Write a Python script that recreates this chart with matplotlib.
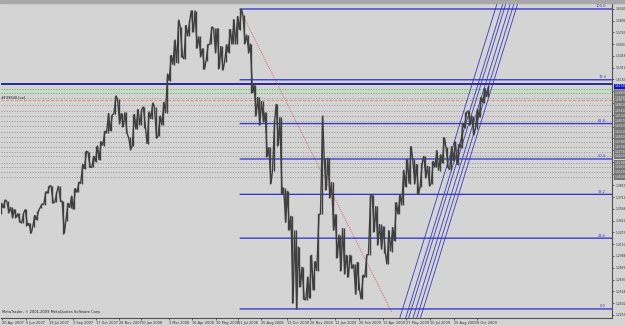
import numpy as np
import pandas as pd
import matplotlib
matplotlib.use("Agg")
import matplotlib.pyplot as plt

# ---------------- data (weekly ranges) ----------------
week_start = pd.date_range("2007-04-16", "2009-10-26", freq="W-MON")
week_low = [
    1.3500, 1.3580, 1.3520, 1.3460, 1.3460, 1.3410, 1.3390, 1.3360, 1.3264, 1.3340,
    1.3430, 1.3580, 1.3620, 1.3760, 1.3640, 1.3650, 1.3660, 1.3261, 1.3420, 1.3580,
    1.3560, 1.3770, 1.3880, 1.4060, 1.4080, 1.4080, 1.4150, 1.4170, 1.4350, 1.4500,
    1.4530, 1.4740, 1.4620, 1.4580, 1.4500, 1.4300, 1.4350, 1.4550, 1.4600, 1.4570,
    1.4370, 1.4680, 1.4440, 1.4470, 1.4600, 1.4750, 1.5150, 1.5350, 1.5370, 1.5450,
    1.5420, 1.5700, 1.5750, 1.5550, 1.5450, 1.5290, 1.5400, 1.5600, 1.5500, 1.5300,
    1.5280, 1.5380, 1.5500, 1.5600, 1.5600, 1.5780, 1.5610, 1.5500, 1.5000, 1.4720,
    1.4600, 1.4640, 1.4210, 1.3880, 1.4040, 1.4350, 1.3750, 1.3400, 1.3300, 1.2400,
    1.2330, 1.2600, 1.2450, 1.2440, 1.2460, 1.2560, 1.2800, 1.3500, 1.3800, 1.3700,
    1.3300, 1.2960, 1.2800, 1.2760, 1.2720, 1.2830, 1.2510, 1.2570, 1.2450, 1.2720,
    1.3000, 1.3280, 1.3120, 1.3070, 1.3020, 1.2880, 1.3040, 1.3170, 1.3500, 1.3610,
    1.3840, 1.3880, 1.3880, 1.3750, 1.3840, 1.3950, 1.3850, 1.3880, 1.4080, 1.4040,
    1.4130, 1.4080, 1.4050, 1.4160, 1.4110, 1.4320, 1.4570, 1.4600, 1.4480, 1.4560,
    1.4700, 1.4880, 1.4950]
week_high = [
    1.3640, 1.3680, 1.3660, 1.3590, 1.3560, 1.3510, 1.3520, 1.3560, 1.3390, 1.3490,
    1.3540, 1.3630, 1.3780, 1.3850, 1.3852, 1.3780, 1.3850, 1.3660, 1.3640, 1.3730,
    1.3820, 1.3900, 1.4120, 1.4280, 1.4270, 1.4220, 1.4350, 1.4400, 1.4530, 1.4750,
    1.4730, 1.4967, 1.4920, 1.4750, 1.4760, 1.4450, 1.4740, 1.4800, 1.4800, 1.4830,
    1.4770, 1.4880, 1.4830, 1.4720, 1.4890, 1.5240, 1.5470, 1.5660, 1.5905, 1.5820,
    1.5840, 1.5900, 1.6020, 1.6019, 1.5700, 1.5550, 1.5600, 1.5820, 1.5800, 1.5800,
    1.5580, 1.5600, 1.5790, 1.5910, 1.5950, 1.6038, 1.5960, 1.5720, 1.5610, 1.5100,
    1.4950, 1.4900, 1.4760, 1.4330, 1.4660, 1.4865, 1.4700, 1.3830, 1.3790, 1.3480,
    1.3300, 1.3100, 1.2850, 1.2730, 1.3000, 1.2920, 1.3500, 1.4720, 1.4200, 1.4200,
    1.3900, 1.3500, 1.3250, 1.3330, 1.3000, 1.3000, 1.2880, 1.2910, 1.2750, 1.3000,
    1.3740, 1.3740, 1.3600, 1.3380, 1.3350, 1.3300, 1.3340, 1.3650, 1.3740, 1.4050,
    1.4180, 1.4340, 1.4180, 1.4120, 1.4140, 1.4220, 1.4100, 1.4160, 1.4290, 1.4240,
    1.4450, 1.4330, 1.4340, 1.4400, 1.4370, 1.4630, 1.4760, 1.4780, 1.4720, 1.4800,
    1.4950, 1.5060, 1.5080]

x_labels = ["20 Apr 2007", "5 Jun 2007", "19 Jul 2007", "3 Sep 2007", "17 Oct 2007",
            "28 Nov 2007", "10 Jan 2008", "3 Mar 2008", "16 Apr 2008", "30 May 2008",
            "11 Jul 2008", "25 Aug 2008", "13 Oct 2008", "26 Nov 2008", "12 Jan 2009",
            "26 Feb 2009", "13 Apr 2009", "27 May 2009", "10 Jul 2009", "25 Aug 2009",
            "8 Oct 2009"]

# Fibonacci retracement (swing high / swing low)
fib_high_date, fib_high = "2008-07-15", 1.6038
fib_low_date, fib_low = "2008-10-27", 1.2330
fib_ratios = [0.0, 23.6, 38.2, 50.0, 61.8, 76.4, 100.0]

# horizontal support / resistance levels
dotted_levels = [1.4938, 1.4851, 1.4781, 1.4715, 1.4657, 1.4592, 1.4521, 1.4460,
                 1.4398, 1.4336, 1.4274, 1.4222, 1.4138, 1.4081, 1.4019, 1.3958]
green_levels = [1.5049, 1.4999]
orange_level = 1.4907
blue_level = 1.5111
current_price = 1.5074

# red dotted trend line
red_line = [("2008-07-15", 1.6038), ("2009-04-29", 1.2293)]

# blue parallel channel lines (start point, end point)
chan_start_dates = ["2009-05-14", "2009-05-26", "2009-06-01", "2009-06-09", "2009-06-16", "2009-06-23"]
chan_end_dates = ["2009-11-16", "2009-11-26", "2009-12-02", "2009-12-10", "2009-12-17", "2009-12-24"]
chan_start_price, chan_end_price = 1.2218, 1.6112

# ---------------- helpers ----------------
BASE = np.datetime64("2007-04-20")


def bar(d):
    return float(np.busday_count(BASE, np.datetime64(pd.Timestamp(d).date())))


# ---------------- figure ----------------
BG = "#D4D4D4"
YLO, YHI = 1.2218, 1.6112
fig = plt.figure(figsize=(6.25, 3.26), dpi=100)
fig.patch.set_facecolor(BG)
ax = fig.add_axes([1 / 625, 8 / 326, 611 / 625, 315 / 326])
ax.set_facecolor(BG)
px_per_bar = 0.738
ax.set_xlim((1 - 2) / px_per_bar, (612 - 2) / px_per_bar)
ax.set_ylim(YLO, YHI)
xmin, xmax = ax.get_xlim()

# horizontal levels
for lv in dotted_levels:
    ax.axhline(lv, color="#989898", lw=0.72, ls=(0, (1.0, 1.6)), zorder=1, snap=True)
ax.axhspan(green_levels[1], green_levels[0], color="#C6DAC6", lw=0, zorder=0.5)
for lv in green_levels:
    ax.axhline(lv, color="#74B474", lw=0.72, ls=(0, (1.2, 1.4)), zorder=1, snap=True)
ax.axhline(orange_level, color="#E0906A", lw=0.72, ls=(0, (3, 1.5)), zorder=1, snap=True)
ax.axhline(blue_level, color="#1A1A9A", lw=1.3, zorder=1, snap=True)
ax.text(bar("2007-04-18") + 1, orange_level + 0.0012, "#F39848 [xx]", fontsize=2.5,
        color="#202020", ha="left", va="bottom")

# fibonacci levels
xf0 = bar(fib_high_date)
for r in fib_ratios:
    p = fib_low + (fib_high - fib_low) * r / 100.0
    ax.hlines(p, xf0, xmax, color="#3434D0", lw=0.95, zorder=2.5, snap=False)
    ax.text(xmax - 8, p + 0.0008, f"{r:.1f}", fontsize=2.6, color="#3A3AC0",
            ha="right", va="bottom", zorder=3)

# red dotted trend line
ax.plot([bar(red_line[0][0]), bar(red_line[1][0])], [red_line[0][1], red_line[1][1]],
        color="#D06060", lw=0.6, ls=(0, (1.2, 1.2)), zorder=2)

# channel lines
for s, e in zip(chan_start_dates, chan_end_dates):
    ax.plot([bar(s), bar(e)], [chan_start_price, chan_end_price], color="#3A3AC0",
            lw=0.6, zorder=2)

# price bars: weekly ranges, joined as a jagged path
xc = np.array([bar(d) + 2 for d in week_start])
lo = np.array(week_low)
hi = np.array(week_high)
mid = (lo + hi) / 2
px, py = [], []
for i in range(len(xc)):
    prev_m = mid[i - 1] if i > 0 else mid[i]
    next_m = mid[i + 1] if i < len(xc) - 1 else mid[i]
    px += [xc[i] - 1.5, xc[i] + 1.5]
    if next_m >= prev_m:
        py += [lo[i], hi[i]]
    else:
        py += [hi[i], lo[i]]
ax.vlines(xc, lo, hi, color="#404040", lw=1.0, zorder=4)
ax.plot(px, py, color="#404040", lw=1.0, zorder=4, solid_joinstyle="miter")

# axes styling
for sp in ["left", "top"]:
    ax.spines[sp].set_visible(False)
ax.spines["right"].set_color("#505050")
ax.spines["bottom"].set_color("#505050")
ax.spines["right"].set_linewidth(0.8)
ax.spines["bottom"].set_linewidth(0.8)

# y ticks
yt = 1.60400 - 0.01455 * np.arange(0, 27)
ax.yaxis.tick_right()
ax.set_yticks(yt)
ax.set_yticklabels([f"{v:.5f}" for v in yt])
ax.tick_params(axis="y", labelsize=2.2, length=1.5, width=0.5, colors="#303030", pad=0.8)

# x ticks
xt = [bar(pd.Timestamp(s)) for s in x_labels]
ax.set_xticks(xt)
ax.set_xticklabels(x_labels, ha="left")
ax.tick_params(axis="x", labelsize=2.5, length=1.5, width=0.5, colors="#303030", pad=0.8)

# right-side boxes for levels
box_levels = sorted(dotted_levels + green_levels + [orange_level], reverse=True)
for lv in box_levels:
    ax.text(1.004, (lv - YLO) / (YHI - YLO), f"{lv:.5f}", transform=ax.transAxes,
            fontsize=2.1, color="#E8E8E8", ha="left", va="center", zorder=6,
            bbox=dict(boxstyle="square,pad=0.25", fc="#767676", ec="none"), clip_on=False)
ax.text(1.004, (blue_level - YLO) / (YHI - YLO) - 0.008, f"{current_price:.5f}",
        transform=ax.transAxes, fontsize=2.1, color="white", ha="left", va="center", zorder=7,
        bbox=dict(boxstyle="square,pad=0.3", fc="#1010C8", ec="none"), clip_on=False)

# top border
fig.patches.append(plt.Rectangle((0, 323 / 326), 1, 3 / 326, transform=fig.transFigure,
                                 color="#A8A8A8", zorder=0))

ax.text(0.002, 0.012, "MetaTrader, \u00a9 2001-2009 MetaQuotes Software Corp.",
        transform=ax.transAxes, fontsize=2.6, color="#202020", ha="left", va="bottom")

fig.savefig("out.png", dpi=100, facecolor=BG)
